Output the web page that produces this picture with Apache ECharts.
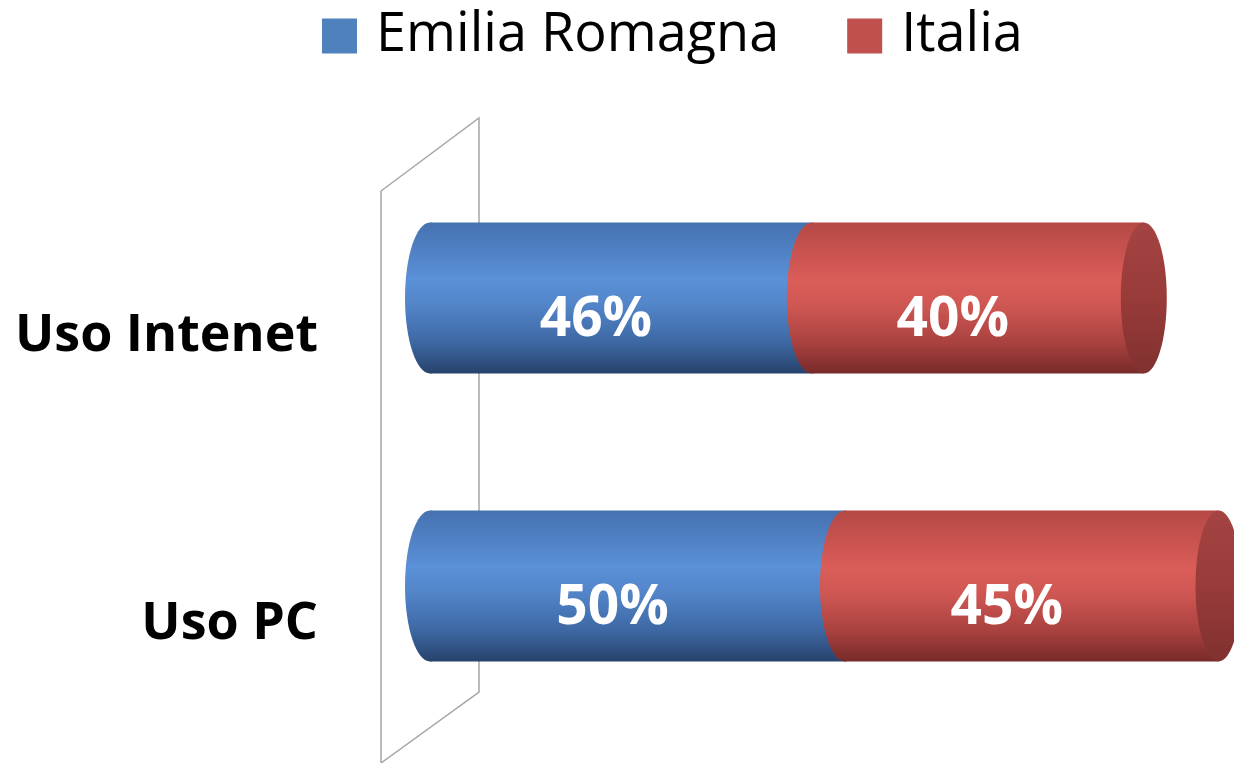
<!DOCTYPE html>
<html>
<head>
<meta charset="utf-8">
<script src="https://cdn.jsdelivr.net/npm/echarts@6/dist/echarts.min.js"></script>
<style>
  html, body { margin: 0; padding: 0; background: #fff; }
  #main { width: 1234px; height: 763px; }
</style>
</head>
<body>
<div id="main"></div>
<script>
var categories = ['Uso Intenet', 'Uso PC'];
var emilia = [46, 50];
var italia = [40, 45];
var seriesNames = ['Emilia Romagna', 'Italia'];

var myChart = echarts.init(document.getElementById('main'));

// cilindri: colori del corpo (sfumatura verticale) e del tappo
var blueStops = [
  { offset: 0, color: '#4571b0' },
  { offset: 0.38, color: '#5b91d8' },
  { offset: 0.55, color: '#5284c8' },
  { offset: 0.8, color: '#3d67a2' },
  { offset: 1, color: '#27426b' }
];
var redStops = [
  { offset: 0, color: '#b54845' },
  { offset: 0.38, color: '#da5d59' },
  { offset: 0.55, color: '#cf5753' },
  { offset: 0.8, color: '#a8413f' },
  { offset: 1, color: '#772b2a' }
];
var capStops = [
  { offset: 0, color: '#a54442' },
  { offset: 0.5, color: '#983b39' },
  { offset: 1, color: '#803130' }
];

function makeRender(stops, withCap) {
  return function (params, api) {
    var cat = api.value(0);
    var s = api.coord([api.value(1), cat]);
    var e = api.coord([api.value(2), cat]);
    var h = api.size([0, 1])[1] * 0.524;
    var yT = s[1] - h / 2;
    var a = 25;
    var fill = new echarts.graphic.LinearGradient(0, 0, 0, 1, stops);
    var children = [
      { type: 'ellipse', shape: { cx: s[0], cy: s[1], rx: a, ry: h / 2 }, style: { fill: fill } },
      { type: 'rect', shape: { x: s[0], y: yT, width: e[0] - s[0], height: h }, style: { fill: fill } }
    ];
    if (withCap) {
      children.push({
        type: 'ellipse',
        shape: { cx: e[0], cy: e[1], rx: a - 2, ry: h / 2 },
        style: { fill: new echarts.graphic.LinearGradient(0, 0, 0, 1, capStops) }
      });
    }
    children.push({
      type: 'text',
      style: {
        text: api.value(3) + '%',
        x: (s[0] + e[0]) / 2 - a,
        y: s[1] + 22,
        align: 'center',
        verticalAlign: 'middle',
        fill: '#ffffff',
        font: 'bold 55px "Open Sans"'
      }
    });
    return { type: 'group', children: children };
  };
}

var emiliaData = emilia.map(function (v, i) { return [i, 0, v, v]; });
var italiaData = italia.map(function (v, i) { return [i, emilia[i], emilia[i] + v, v]; });

var option = {
  animation: false,
  legend: {
    left: 317,
    top: 4,
    icon: 'rect',
    itemWidth: 35,
    itemHeight: 35,
    itemGap: 68,
    textStyle: {
      fontFamily: 'Open Sans',
      fontSize: 54,
      color: '#000',
      padding: [0, 0, 0, 14]
    },
    data: seriesNames
  },
  graphic: [{
    type: 'polygon',
    z: -10,
    shape: { points: [[381, 191], [479, 118], [479, 692], [381, 763]] },
    style: { fill: 'none', stroke: '#a6a6a6', lineWidth: 1.5 }
  }],
  grid: {
    left: 430,
    right: 15.5,
    top: 154,
    bottom: 33,
    outerBoundsMode: 'none'
  },
  xAxis: {
    type: 'value',
    min: 0,
    max: 95,
    show: false
  },
  yAxis: {
    type: 'category',
    inverse: true,
    data: categories,
    axisLine: { show: false },
    axisTick: { show: false },
    splitLine: { show: false },
    axisLabel: {
      margin: 112,
      fontFamily: 'Open Sans',
      fontWeight: 'bold',
      fontSize: 52,
      color: '#000',
      verticalAlign: 'top',
      lineHeight: 76
    }
  },
  series: [
    {
      name: seriesNames[0],
      type: 'custom',
      itemStyle: { color: '#4f81bd' },
      encode: { x: [1, 2], y: 0 },
      renderItem: makeRender(blueStops, false),
      data: emiliaData
    },
    {
      name: seriesNames[1],
      type: 'custom',
      itemStyle: { color: '#c0504d' },
      encode: { x: [1, 2], y: 0 },
      renderItem: makeRender(redStops, true),
      data: italiaData
    }
  ]
};

myChart.setOption(option);
</script>
</body>
</html>
